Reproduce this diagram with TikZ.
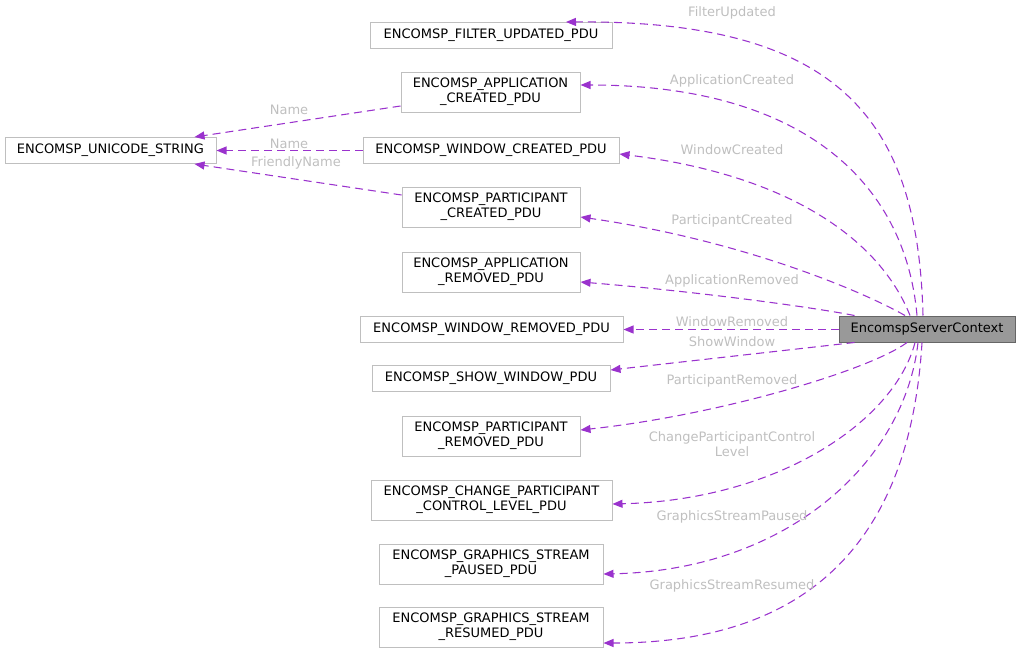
\documentclass[tikz,border=0pt]{standalone}
\usepackage{fontspec}
\newfontfamily\dvs{DejaVu Sans}
\usetikzlibrary{arrows.meta,calc}
\definecolor{edgecol}{HTML}{9A32CD}
\definecolor{boxcol}{HTML}{BFBFBF}
\definecolor{labcol}{HTML}{BFBFBF}
\definecolor{ctxfill}{HTML}{999999}
\definecolor{ctxdraw}{HTML}{666666}
\begin{document}
\begin{tikzpicture}[x=0.75pt,y=-0.75pt,
  pdu/.style={draw=boxcol, fill=white, line width=0.75pt, font=\dvs\fontsize{9.75}{11.25}\selectfont, align=center, inner sep=0pt},
  pdua/.style={pdu, minimum height=19.5pt},
  pdub/.style={pdu, minimum height=30pt},
  bw/.style={minimum width={#1*0.75pt}},
  ctxbox/.style={pdua, fill=ctxfill, draw=ctxdraw},
  lab/.style={text=labcol, font=\dvs\fontsize{9.75}{11.25}\selectfont, align=center, inner sep=0pt},
  edge/.style={draw=edgecol, line width=0.8pt, dash pattern=on 6pt off 3.75pt, -{Triangle[length=7.5pt,width=6pt,fill=edgecol]}}
]
\useasboundingbox (0,0) rectangle (1020,653);

% nodes
\node[pdua, bw=242] (fu) at (491,35.5) {ENCOMSP\_FILTER\_UPDATED\_PDU};
\node[pdub, bw=179] (ac) at (490.5,92) {ENCOMSP\_APPLICATION\\\_CREATED\_PDU};
\node[pdua, bw=211] (us) at (110.5,150.5) {ENCOMSP\_UNICODE\_STRING};
\node[pdua, bw=256] (wc) at (491,150.5) {ENCOMSP\_WINDOW\_CREATED\_PDU};
\node[pdub, bw=178] (pc) at (491,207) {ENCOMSP\_PARTICIPANT\\\_CREATED\_PDU};
\node[pdub, bw=178] (ar) at (491,272) {ENCOMSP\_APPLICATION\\\_REMOVED\_PDU};
\node[pdua, bw=263] (wr) at (491.5,329) {ENCOMSP\_WINDOW\_REMOVED\_PDU};
\node[pdua, bw=238] (sw) at (491,378) {ENCOMSP\_SHOW\_WINDOW\_PDU};
\node[pdub, bw=178] (pr) at (491,436) {ENCOMSP\_PARTICIPANT\\\_REMOVED\_PDU};
\node[pdub, bw=241] (cp) at (491.5,500) {ENCOMSP\_CHANGE\_PARTICIPANT\\\_CONTROL\_LEVEL\_PDU};
\node[pdub, bw=224] (gp) at (491,564) {ENCOMSP\_GRAPHICS\_STREAM\\\_PAUSED\_PDU};
\node[pdub, bw=224] (gr) at (491,627) {ENCOMSP\_GRAPHICS\_STREAM\\\_RESUMED\_PDU};
\node[ctxbox, bw=176] (ctx) at (927,329) {EncomspServerContext};

% edges from context
\draw[edge] ($(ctx.north)+(-4,0)$) .. controls (918,120) and (840,20) .. ($(fu.north)+(75,0)$);
\draw[edge] ($(ctx.north)+(-10,0)$) .. controls (905,180) and (800,85) .. ($(ac.east)+(0,-7)$);
\draw[edge] ($(ctx.north)+(-17,0)$) .. controls (880,240) and (790,175) .. ($(wc.east)+(0,3.5)$);
\draw[edge] ($(ctx.north)+(-22,0)$) .. controls (860,290) and (740,240) .. ($(pc.east)+(0,10)$);
\draw[edge] ($(ctx.north west)+(16,0)$) .. controls (800,305) and (680,290) .. ($(ar.east)+(0,10)$);
\draw[edge] ($(ctx.west)+(0,0.5)$) -- ($(wr.east)+(0,0.5)$);
\draw[edge] ($(ctx.south west)+(16,0)$) -- ($(sw.east)+(0,-8)$);
\draw[edge] ($(ctx.south)+(-20,0)$) .. controls (870,370) and (720,415) .. ($(pr.east)+(0,-6)$);
\draw[edge] ($(ctx.south)+(-12,0)$) .. controls (895,420) and (780,500) .. ($(cp.east)+(0,4)$);
\draw[edge] ($(ctx.south)+(-9,0)$) .. controls (905,460) and (790,570) .. ($(gp.east)+(0,10)$);
\draw[edge] ($(ctx.south)+(-5,0)$) .. controls (910,540) and (810,643) .. ($(gr.east)+(0,16)$);

% edges to unicode string
\draw[edge] ($(ac.west)+(0,14)$) -- ($(us.north)+(84,0)$);
\draw[edge] (wc.west) -- (us.east);
\draw[edge] ($(pc.west)+(0,-12)$) -- ($(us.south)+(84,0)$);

% labels
\node[lab] (l1) at (732,12.5) {FilterUpdated};
\node[lab] (l2) at (732,80.5) {ApplicationCreated};
\node[lab] (l3) at (732,149.5) {WindowCreated};
\node[lab] (l4) at (732,220.5) {ParticipantCreated};
\node[lab] (l5) at (732,280.5) {ApplicationRemoved};
\node[lab] (l6) at (732,321.5) {WindowRemoved};
\node[lab] (l7) at (732,341.5) {ShowWindow};
\node[lab] (l8) at (732,380.5) {ParticipantRemoved};
\node[lab] (l9) at (732,444) {ChangeParticipantControl\\Level};
\node[lab] (l10) at (732,516.5) {GraphicsStreamPaused};
\node[lab] (l11) at (732,585.5) {GraphicsStreamResumed};
\node[lab] (l12) at (289,109.5) {Name};
\node[lab] (l13) at (289,143.5) {Name};
\node[lab] (l14) at (296,163) {FriendlyName};
\end{tikzpicture}
\end{document}
